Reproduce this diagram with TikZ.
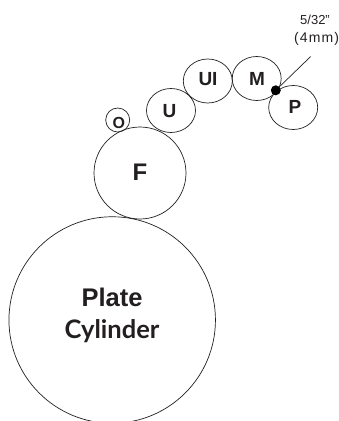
\documentclass[tikz,border=0pt]{standalone}
\usepackage{fontspec}
\setmainfont{Liberation Sans}
\newfontfamily\cylfont{Lato}
\newfontfamily\widefont[LetterSpace=8]{Liberation Sans}
\usetikzlibrary{shapes.geometric}
\definecolor{inkgray}{HTML}{231F20}
\tikzset{
    roller/.style={draw=inkgray, line width=0.7pt, ellipse, inner sep=0pt,
        minimum width=49pt, minimum height=44pt},
    bigroller/.style={roller, minimum width=#1pt, minimum height=#1pt},
    rollerlabel/.style={text=inkgray, inner sep=0pt, font=\bfseries\fontsize{19}{19}\selectfont},
    biglabel/.style={text=inkgray, inner sep=0pt, font=\bfseries\fontsize{25.5}{26}\selectfont},
    smalllabel/.style={text=inkgray, inner sep=0pt, font=\fontsize{13}{14}\selectfont}
}
\begin{document}
\begin{tikzpicture}[x=1pt, y=-1pt]
        \useasboundingbox (0,0) rectangle (339,421);
        % rollers
        \node[bigroller=206.5] (plate) at (112.2,320) {};
        \node[bigroller=92] (form) at (140,173) {};
        \node[bigroller=24] (oscillator) at (117.7,120) {};
        \node[roller] (upper) at (171,110.5) {};
        \node[roller] (upperidler) at (207.8,81) {};
        \node[roller] (middle) at (256.7,78.5) {};
        \node[roller] (pan) at (293.2,107.5) {};
        % roller text
        \node[rollerlabel, font=\bfseries\fontsize{24}{24}\selectfont] (formtext) at (140,172) {F};
        \node[rollerlabel, font=\bfseries\fontsize{16}{16}\selectfont] (oscillatortext) at (118.8,122.8) {O};
        \node[rollerlabel] (uppertext) at (169.5,110.8) {U};
        \node[rollerlabel] (upperidlertext) at (208,78.7) {UI};
        \node[rollerlabel] (middletext) at (257,79) {M};
        \node[rollerlabel] (pantext) at (295,107) {P};
        \node[biglabel] (platetext) at (112,297) {Plate};
        \node[biglabel, font=\cylfont\bfseries\fontsize{25.5}{26}\selectfont] (cyltext) at (112,331) {Cylinder};
        % nip
        \node[circle, fill=black, inner sep=0pt, minimum size=10pt] (nip) at (275.8,90.3) {};
        \coordinate (leaderend) at (310.7,56.5);
        \draw[inkgray, line width=0.7pt] (nip) -- (leaderend);
        \node[smalllabel] (sizein) at (315,20) {5/32\symbol{34}};
        \node[smalllabel, anchor=west, font=\widefont\fontsize{14}{14}\selectfont] (sizemm) at (294,39) {(4mm)};
    \end{tikzpicture}
\end{document}
